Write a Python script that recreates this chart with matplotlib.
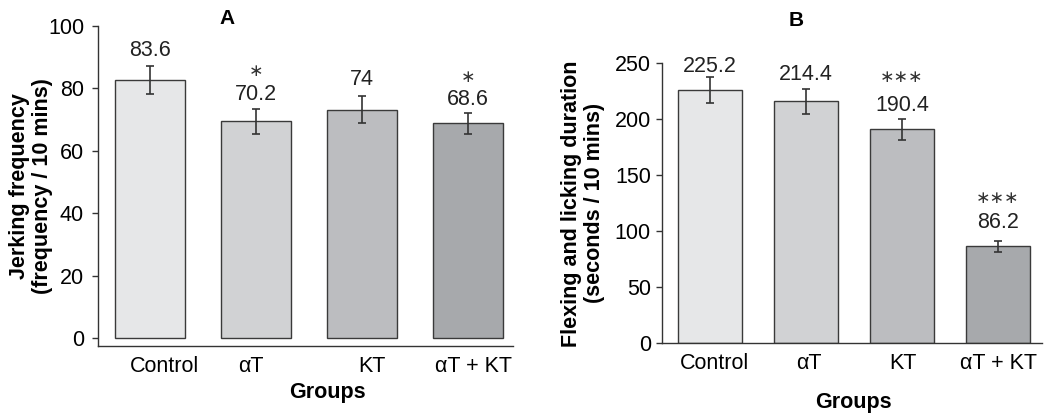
import matplotlib
matplotlib.use("Agg")
import matplotlib.pyplot as plt
import numpy as np

plt.rcParams['font.family'] = ['Liberation Sans', 'DejaVu Sans']

groups = ["Control", "\u03b1T", "KT", "\u03b1T + KT"]

# Panel A
a_values = [82.7, 69.4, 73.2, 68.8]
a_errors = [4.5, 4.0, 4.3, 3.3]
a_labels = ["83.6", "70.2", "74", "68.6"]
a_label_y = [92.3, 77.9, 83.0, 76.3]
a_stars = ["", "*", "", "*"]
a_star_y = [0, 85.5, 0, 83.8]

# Panel B
b_values = [226.2, 216.0, 191.0, 86.6]
b_errors = [11.2, 11.2, 9.7, 4.9]
b_labels = ["225.2", "214.4", "190.4", "86.2"]
b_label_y = [247.0, 240.5, 212.0, 107.7]
b_stars = ["", "", "***", "***"]
b_star_y = [0, 0, 237.5, 130.0]

colors = ["#e6e7e8", "#d1d2d4", "#bcbdc0", "#a7a9ac"]
edge = "#3a3a3a"
FS = 15.5

fig = plt.figure(figsize=(10.47, 4.15), dpi=100)
axA = fig.add_axes([0.0936, 0.1663, 0.396, 0.771])
axB = fig.add_axes([0.6323, 0.1723, 0.363, 0.675])

def draw(ax, vals, errs, labels, label_y, stars, star_y, ylim, yticks, xlim, ylabel,
         title, title_xy, groups_xy, ypad, tick_shift):
    x = np.arange(len(vals))
    ax.bar(x, vals, width=0.66, color=colors, edgecolor=edge, linewidth=1.0, zorder=2)
    ax.errorbar(x, vals, yerr=errs, fmt='none', ecolor="#333333", elinewidth=1.2,
                capsize=3, capthick=1.2, zorder=3)
    for xi, lab, ly in zip(x, labels, label_y):
        ax.text(xi, ly, lab, ha='center', va='center', fontsize=FS, color="#222222")
    for xi, s, sy in zip(x, stars, star_y):
        if s:
            ax.text(xi, sy, s.replace("*", "\u2217"), ha='center', va='center',
                    fontsize=12.5, color="#333333", family='DejaVu Sans')
    ax.set_ylim(*ylim)
    ax.set_xlim(*xlim)
    ax.set_yticks(yticks)
    ax.set_xticks(x + np.array(tick_shift))
    ax.set_xticklabels(groups, fontsize=FS)
    ax.tick_params(axis='x', length=0, pad=7)
    ax.tick_params(axis='y', length=4, width=1, labelsize=FS, color="#333333", pad=ypad)
    for sp in ['top', 'right']:
        ax.spines[sp].set_visible(False)
    for sp in ['left', 'bottom']:
        ax.spines[sp].set_color("#333333")
        ax.spines[sp].set_linewidth(1.0)
    ax.set_ylabel(ylabel, fontsize=FS, fontweight='bold', linespacing=1.15)
    fig.text(title_xy[0], title_xy[1], title, ha='center', va='center', fontsize=15, fontweight='bold')
    fig.text(groups_xy[0], groups_xy[1], "Groups", ha='center', va='center', fontsize=FS, fontweight='bold')

draw(axA, a_values, a_errors, a_labels, a_label_y, a_stars, a_star_y,
     (-2.6, 100), [0, 20, 40, 60, 80, 100], (-0.49, 3.42),
     "Jerking frequency\n(frequency / 10 mins)", "A", (227/1047, 1-18/415), (327/1047, 1-392/415), 6,
     [0.14, -0.05, 0.09, 0.05])
draw(axB, b_values, b_errors, b_labels, b_label_y, b_stars, b_star_y,
     (0, 250), [0, 50, 100, 150, 200, 250], (-0.5, 3.46),
     "Flexing and licking duration\n(seconds / 10 mins)", "B", (796/1047, 1-20/415), (853/1047, 1-402/415), 4,
     [0.05, 0.03, 0.01, 0.01])

axA.yaxis.set_label_coords(-0.108, 0.5)
axB.yaxis.set_label_coords(-0.15, 0.5)

fig.savefig("out.png", dpi=100)
